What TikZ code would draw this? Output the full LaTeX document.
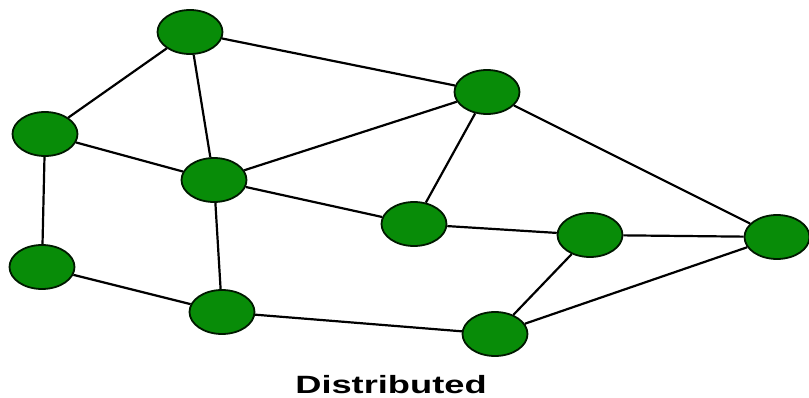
\documentclass[tikz,border=0pt]{standalone}
\usepackage{fontspec}
\setsansfont{Liberation Sans}
\usetikzlibrary{shapes.geometric}
\definecolor{nodegreen}{RGB}{8,140,8}
\tikzset{
    site/.style={ellipse, draw=black!90!green, line width=1.8pt, fill=nodegreen,
        minimum width=65pt, minimum height=44pt, inner sep=0pt},
    link/.style={line width=2.2pt, black}
}
\begin{document}
\begin{tikzpicture}[x=1pt,y=-1pt]
        \useasboundingbox (0,0) rectangle (809,398);
        \node[site] (top) at (190,32) {};
        \node[site] (upright) at (487,92) {};
        \node[site] (left) at (45,134) {};
        \node[site] (center) at (214,180) {};
        \node[site] (mid) at (414,224) {};
        \node[site] (right) at (590,235) {};
        \node[site] (far) at (777,237) {};
        \node[site] (lowleft) at (42,267) {};
        \node[site] (low) at (222,312) {};
        \node[site] (bottom) at (495,334) {};
        \foreach \a/\b in {top/left, top/center, top/upright, left/center, left/lowleft,
            center/upright, center/mid, center/low, upright/mid, upright/far,
            mid/right, right/far, right/bottom, far/bottom, lowleft/low, low/bottom}
            \draw[link] (\a) -- (\b);
        \node[xscale=1.45, font=\sffamily\bfseries\fontsize{25}{25}\selectfont] (label) at (391,385) {Distributed};
    \end{tikzpicture}
\end{document}
